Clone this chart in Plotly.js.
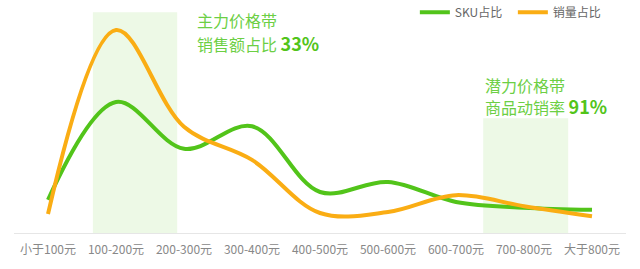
<!DOCTYPE html>
<html>
<head>
<meta charset="utf-8">
<script src="https://cdn.plot.ly/plotly-3.0.1.min.js"></script>
<style>html,body{margin:0;padding:0;background:#fff;}#chart{width:640px;height:269px;}</style>
</head>
<body>
<div id="chart"></div>
<script>
const categories = ['小于100元','100-200元','200-300元','300-400元','400-500元','500-600元','600-700元','700-800元','大于800元'];
const skuShare = [6.3, 24.9, 16.0, 20.3, 7.8, 9.7, 5.9, 4.8, 4.4];
const salesShare = [3.6, 38.6, 20.2, 13.9, 3.8, 4.0, 7.2, 5.1, 3.2];
const seriesNames = ['SKU占比', '销量占比'];

const font = '"Noto Sans CJK SC", "Noto Sans", sans-serif';
const idx = categories.map((c, i) => i);

const traces = [
  {x: idx, y: skuShare, name: seriesNames[0], type: 'scatter', mode: 'lines',
   line: {color: '#52c41a', width: 4, shape: 'spline', smoothing: 1.0}, hoverinfo: 'none'},
  {x: idx, y: salesShare, name: seriesNames[1], type: 'scatter', mode: 'lines',
   line: {color: '#faad14', width: 4, shape: 'spline', smoothing: 1.0}, hoverinfo: 'none'}
];

const layout = {
  width: 640, height: 269,
  margin: {l: 14, r: 14, t: 10, b: 36, autoexpand: false},
  paper_bgcolor: '#fff', plot_bgcolor: '#fff',
  font: {family: font, size: 12, color: '#666'},
  showlegend: true,
  legend: {orientation: 'h', x: 0.655, xanchor: 'left', y: 0.99, yanchor: 'middle',
           font: {family: font, size: 12, color: '#666'}, bgcolor: 'rgba(0,0,0,0)',
           entrywidth: 53, entrywidthmode: 'pixels', itemwidth: 30, tracegroupgap: 0},
  xaxis: {range: [-0.5, 8.5], tickmode: 'array', tickvals: idx, ticktext: categories,
          showgrid: false, zeroline: false, showline: true, linecolor: '#e6e6e6', linewidth: 1,
          ticks: '', ticklabelstandoff: 6, tickfont: {family: font, size: 12, color: '#888'}, fixedrange: true},
  yaxis: {range: [0, 42.4], showgrid: false, zeroline: false, showline: false,
          showticklabels: false, ticks: '', fixedrange: true},
  shapes: [
    {type: 'rect', xref: 'x', yref: 'paper', x0: 0.66, x1: 1.90, y0: 0, y1: 0.99,
     fillcolor: '#edf9e6', line: {width: 0}, layer: 'below'},
    {type: 'rect', xref: 'x', yref: 'paper', x0: 6.4, x1: 7.65, y0: 0, y1: 0.515,
     fillcolor: '#edf9e6', line: {width: 0}, layer: 'below'}
  ],
  annotations: [
    {xref: 'paper', yref: 'paper', x: 0.2958, y: 0.955, xanchor: 'left', yanchor: 'middle',
     text: '主力价格带', showarrow: false, font: {family: font, size: 16, color: '#6ccf44'}},
    {xref: 'paper', yref: 'paper', x: 0.2958, y: 0.852, xanchor: 'left', yanchor: 'middle',
     text: '销售额占比 <b><span style="font-size:18px;color:#52c41a">33%</span></b>', showarrow: false,
     font: {family: font, size: 16, color: '#6ccf44'}},
    {xref: 'paper', yref: 'paper', x: 0.766, y: 0.664, xanchor: 'left', yanchor: 'middle',
     text: '潜力价格带', showarrow: false, font: {family: font, size: 16, color: '#6ccf44'}},
    {xref: 'paper', yref: 'paper', x: 0.766, y: 0.57, xanchor: 'left', yanchor: 'middle',
     text: '商品动销率 <b><span style="font-size:18px;color:#52c41a">91%</span></b>', showarrow: false,
     font: {family: font, size: 16, color: '#6ccf44'}}
  ]
};

Plotly.newPlot('chart', traces, layout, {staticPlot: true, displayModeBar: false});
</script>
</body>
</html>
